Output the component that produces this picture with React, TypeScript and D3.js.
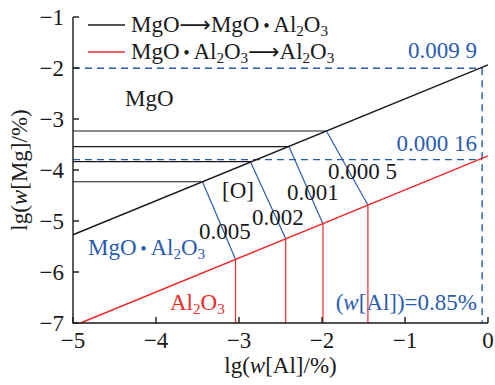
import React from "react";
import * as d3 from "d3";

// Axis ticks
const xTicks = [-5, -4, -3, -2, -1, 0];
const yTicks = [-1, -2, -3, -4, -5, -6, -7];

// Phase boundaries: lg(w[Al]) vs lg(w[Mg])
const mgoToSpinel: [number, number][] = [[-5, -5.27], [0, -1.94]];
const spinelToAlumina: [number, number][] = [[-4.91, -7], [0, -3.725]];

// Iso-oxygen lines [O] (mass %): upper end on the MgO boundary, lower end on the Al2O3 boundary
const oxygenLabels = ["0.000 5", "0.001", "0.002", "0.005"];
const isoUpper: [number, number][] = [[-1.947, -3.235], [-2.397, -3.543], [-2.862, -3.837], [-3.44, -4.23]];
const isoLower: [number, number][] = [[-1.447, -4.686], [-1.988, -5.06], [-2.437, -5.35], [-3.042, -5.75]];

// Reference composition
const mgHigh = 0.0099;
const mgLow = 0.00016;
const alContent = 0.85;

const W = 495;
const H = 385;
const BLACK = "#1a1a1a";
const RED = "#ee2a2a";
const BLUE = "#2a5cb0";
const FONT = "'Liberation Serif', 'Times New Roman', serif";
const FS = 23;

// Formula pieces: kind "n" normal, "s" subscript, "d" centred dot, "a" arrow
type Piece = [string, "n" | "s" | "d" | "a"];

function Formula({ parts, size }: { parts: Piece[]; size: number }) {
  const out: React.ReactNode[] = [];
  let sub = false;
  const shift = size * 0.18;
  parts.forEach(([t, k], i) => {
    const s = k === "s";
    let dy = 0;
    if (s && !sub) dy = shift;
    if (!s && sub) dy = -shift;
    sub = s;
    if (k === "d") {
      out.push(
        <tspan key={i} dy={dy} fontSize={size * 0.8}>
          {"\u2009\u2022\u2009"}
        </tspan>
      );
    } else if (k === "a") {
      out.push(
        <tspan key={i} dy={dy} fontFamily="'DejaVu Sans', sans-serif" fontSize={size * 0.95}>
          {"\u27F6"}
        </tspan>
      );
    } else {
      out.push(
        <tspan key={i} dy={dy} fontSize={s ? size * 0.66 : size}>
          {t}
        </tspan>
      );
    }
  });
  return <>{out}</>;
}

const spinel: Piece[] = [["MgO", "n"], ["", "d"], ["Al", "n"], ["2", "s"], ["O", "n"], ["3", "s"]];
const alumina: Piece[] = [["Al", "n"], ["2", "s"], ["O", "n"], ["3", "s"]];
const arrow: Piece = ["", "a"];

export default function App() {
  const x = d3.scaleLinear().domain([-5, 0]).range([73, 488]);
  const y = d3.scaleLinear().domain([-1, -7]).range([17, 323]);
  const line = d3.line<[number, number]>().x((d) => x(d[0])).y((d) => y(d[1]));

  const yHigh = Math.log10(mgHigh);
  const yLow = Math.log10(mgLow);
  const xAl = Math.log10(alContent);

  return (
    <svg
      width={W}
      height={H}
      style={{ position: "absolute", left: 0, top: 0, background: "#fff" }}
      fontFamily={FONT}
      fontSize={FS}
    >
      {/* dashed reference lines */}
      <g stroke={BLUE} strokeWidth={1.4} strokeDasharray="7,5" fill="none">
        <path d={line([[-5, yHigh], [xAl, yHigh]])!} />
        <path d={line([[-5, yLow], [xAl, yLow]])!} />
        <path d={line([[xAl, yHigh], [xAl, -7]])!} />
      </g>

      {/* horizontal MgO lines from the axis to the boundary */}
      <g stroke={BLACK} strokeWidth={1.2} fill="none">
        {isoUpper.map((p, i) => (
          <path key={i} d={line([[-5, p[1]], p])!} />
        ))}
      </g>

      {/* iso-oxygen lines */}
      <g stroke={BLUE} strokeWidth={1.2} fill="none">
        {isoUpper.map((p, i) => (
          <path key={i} d={line([p, isoLower[i]])!} />
        ))}
      </g>

      {/* vertical Al2O3 lines to the axis */}
      <g stroke={RED} strokeWidth={1.2} fill="none">
        {isoLower.map((p, i) => (
          <path key={i} d={line([p, [p[0], -7]])!} />
        ))}
      </g>

      {/* phase boundaries */}
      <path d={line(mgoToSpinel)!} stroke={BLACK} strokeWidth={1.4} fill="none" />
      <path d={line(spinelToAlumina)!} stroke={RED} strokeWidth={1.4} fill="none" />

      {/* axes */}
      <g stroke={BLACK} strokeWidth={1.4} fill="none">
        <path d={`M${x(-5)},${y(-1)}V${y(-7)}H${x(0)}`} />
        {yTicks.map((t) => (
          <path key={t} d={`M${x(-5)},${y(t)}h6`} />
        ))}
        {xTicks.map((t) => (
          <path key={t} d={`M${x(t)},${y(-7)}v-6`} />
        ))}
      </g>
      <g fill={BLACK}>
        {yTicks.map((t) => (
          <text key={t} x={x(-5) - 9} y={y(t) + 8} textAnchor="end">
            {"\u2212" + Math.abs(t)}
          </text>
        ))}
        {xTicks.map((t) => (
          <text key={t} x={x(t)} y={348} textAnchor="middle">
            {t === 0 ? "0" : "\u2212" + Math.abs(t)}
          </text>
        ))}
        <text x={(x(-5) + x(0)) / 2} y={373} textAnchor="middle">
          lg(<tspan fontStyle="italic">w</tspan>[Al]/%)
        </text>
        <text transform={`translate(27,${(y(-1) + y(-7)) / 2}) rotate(-90)`} textAnchor="middle">
          lg(<tspan fontStyle="italic">w</tspan>[Mg]/%)
        </text>
      </g>

      {/* legend */}
      <line x1={88} x2={125} y1={25} y2={25} stroke={BLACK} strokeWidth={1.4} />
      <line x1={88} x2={125} y1={52} y2={52} stroke={RED} strokeWidth={1.4} />
      <text x={131} y={32} fill={BLACK}>
        <Formula parts={[["MgO", "n"], arrow, ...spinel]} size={FS} />
      </text>
      <text x={131} y={59} fill={BLACK}>
        <Formula parts={[...spinel, arrow, ...alumina]} size={FS} />
      </text>

      {/* annotations */}
      <text x={477} y={58} textAnchor="end" fill={BLUE}>0.009 9</text>
      <text x={477} y={151} textAnchor="end" fill={BLUE}>0.000 16</text>
      <text x={477} y={310} textAnchor="end" fill={BLUE}>
        (<tspan fontStyle="italic">w</tspan>[Al])=0.85%
      </text>
      <text x={125} y={106} fill={BLACK}>MgO</text>
      <text x={222} y={198} fill={BLACK}>[O]</text>
      <text x={328} y={179} fill={BLACK}>{oxygenLabels[0]}</text>
      <text x={287} y={200} fill={BLACK}>{oxygenLabels[1]}</text>
      <text x={252} y={225} fill={BLACK}>{oxygenLabels[2]}</text>
      <text x={199} y={239} fill={BLACK}>{oxygenLabels[3]}</text>
      <text x={88} y={255} fill={BLUE}>
        <Formula parts={spinel} size={FS} />
      </text>
      <text x={170} y={310} fill={RED}>
        <Formula parts={alumina} size={FS} />
      </text>
    </svg>
  );
}
